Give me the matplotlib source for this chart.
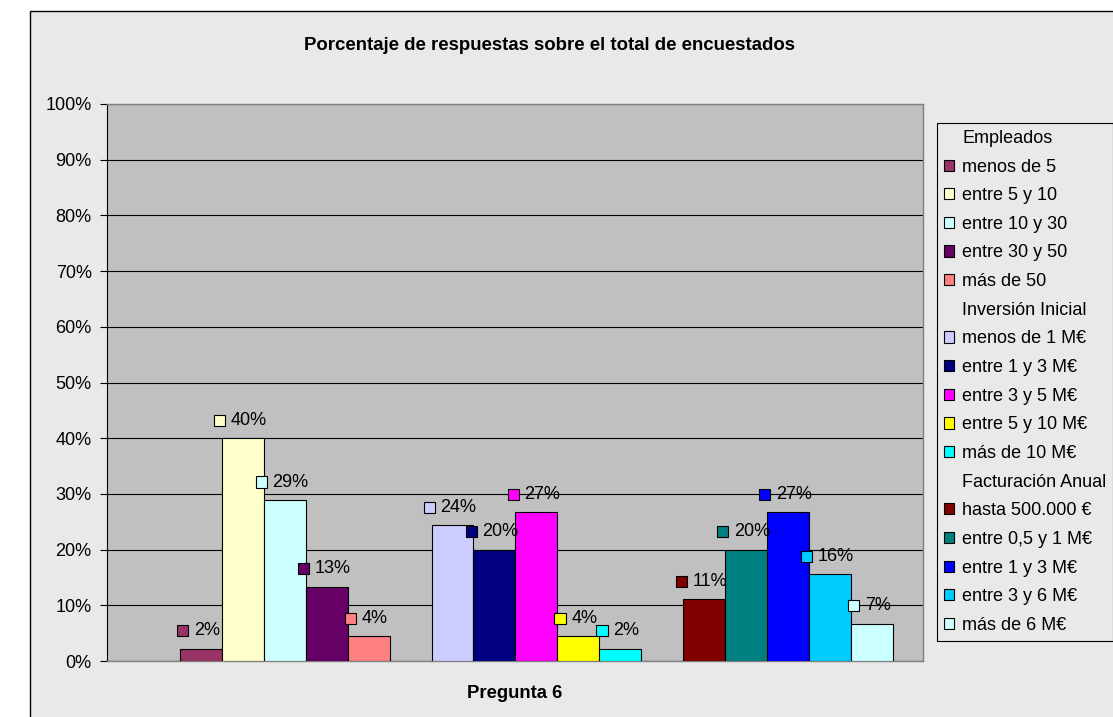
import matplotlib
matplotlib.use("Agg")
import matplotlib.pyplot as plt
from matplotlib.patches import Rectangle, Patch
from matplotlib.offsetbox import DrawingArea, TextArea, HPacker, AnnotationBbox
from matplotlib.ticker import FixedLocator, FuncFormatter

plt.rcParams['font.family'] = ['Liberation Sans', 'DejaVu Sans']

# ---------------- data ----------------
title = "Porcentaje de respuestas sobre el total de encuestados"
category = "Pregunta 6"
group_names = ["Empleados", "Inversión Inicial", "Facturación Anual"]

empleados_labels = ["menos de 5", "entre 5 y 10", "entre 10 y 30", "entre 30 y 50", "más de 50"]
empleados_values = [2.2, 40.0, 28.9, 13.3, 4.4]

inversion_labels = ["menos de 1 M€", "entre 1 y 3 M€", "entre 3 y 5 M€", "entre 5 y 10 M€", "más de 10 M€"]
inversion_values = [24.4, 20.0, 26.7, 4.4, 2.2]

facturacion_labels = ["hasta 500.000 €", "entre 0,5 y 1 M€", "entre 1 y 3 M€", "entre 3 y 6 M€", "más de 6 M€"]
facturacion_values = [11.1, 20.0, 26.7, 15.6, 6.7]

y_ticks = [0, 10, 20, 30, 40, 50, 60, 70, 80, 90, 100]

# ---------------- style ----------------
empleados_colors = ["#993366", "#FFFFCC", "#CCFFFF", "#660066", "#FF8080"]
inversion_colors = ["#CCCCFF", "#000080", "#FF00FF", "#FFFF00", "#00FFFF"]
facturacion_colors = ["#800000", "#008080", "#0000FF", "#00CCFF", "#CCFFFF"]

groups = [
    (group_names[0], empleados_labels, empleados_values, empleados_colors),
    (group_names[1], inversion_labels, inversion_values, inversion_colors),
    (group_names[2], facturacion_labels, facturacion_values, facturacion_colors),
]

W, H = 1113, 717
FS = 13
fig = plt.figure(figsize=(W / 100, H / 100), dpi=100)
fig.patch.set_facecolor("white")

# chart area (extends beyond the right/bottom edges)
fig.add_artist(Rectangle((30 / W, -0.1), 1.2, 1.1 - 10.5 / H,
                         transform=fig.transFigure, facecolor="#E9E9E9",
                         edgecolor="black", lw=1.0, zorder=0))

ax = fig.add_axes([107 / W, 1 - 661 / H, (923 - 107) / W, (661 - 104) / H])
ax.set_facecolor("#C0C0C0")

handles = []
slot = 0
px2pt = 72 / 100
for gname, labels, values, colors in groups:
    handles.append(Patch(facecolor="none", edgecolor="none", label=gname))
    slot += 1  # header series occupies an empty slot
    for lab, val, col in zip(labels, values, colors):
        ax.bar(slot, val, width=1.0, color=col, edgecolor="black", lw=0.8, zorder=3)
        handles.append(Patch(facecolor=col, edgecolor="black", lw=0.8, label=lab))
        # data label: legend key + value
        da = DrawingArea(8, 8, 0, 0)
        da.add_artist(Rectangle((0, 0), 8, 8, facecolor=col, edgecolor="black", lw=0.8))
        ta = TextArea(f"{round(val)}%", textprops=dict(fontsize=FS, color="black"))
        box = HPacker(children=[da, ta], align="center", pad=0, sep=4)
        ab = AnnotationBbox(box, (slot, val), xybox=(-2.5 * px2pt, 18 * px2pt),
                            xycoords="data", boxcoords="offset points",
                            box_alignment=(0.5, 0.5), frameon=False, pad=0,
                            zorder=6, annotation_clip=False)
        ax.add_artist(ab)
        slot += 1

ax.set_xlim(-1.24, 18.22)
ax.set_ylim(0, 100)
ax.yaxis.set_major_locator(FixedLocator(y_ticks))
ax.yaxis.set_major_formatter(FuncFormatter(lambda v, p: f"{v:.0f}%"))
ax.set_xticks([])
ax.tick_params(axis="y", length=5, width=0.8, color="black", labelsize=FS, pad=6)
ax.yaxis.grid(True, color="black", lw=0.8)
ax.set_axisbelow(True)

ax.spines["left"].set_color("black")
ax.spines["left"].set_linewidth(0.8)
for s in ["top", "right", "bottom"]:
    ax.spines[s].set_color("#808080")
    ax.spines[s].set_linewidth(1.0)

ax.set_xlabel(category, fontsize=FS + 0.3, fontweight="bold")
ax.xaxis.set_label_coords(0.5, -32 / 557)
ax.xaxis.label.set_va("center")

fig.text(550 / W, 1 - 45.7 / H, title, ha="center", va="center",
         fontsize=13.4, fontweight="bold")

leg = fig.legend(handles=handles, loc="upper left",
                 bbox_to_anchor=(937 / W, 1 - 123 / H), bbox_transform=fig.transFigure,
                 fontsize=FS, frameon=True, fancybox=False,
                 handlelength=0.58, handleheight=0.58, handletextpad=0.44,
                 labelspacing=0.645, borderpad=0.38, borderaxespad=0)
frame = leg.get_frame()
frame.set_facecolor("#E9E9E9")
frame.set_edgecolor("black")
frame.set_linewidth(0.8)
frame.set_alpha(1)

fig.savefig("out.png", dpi=100)
